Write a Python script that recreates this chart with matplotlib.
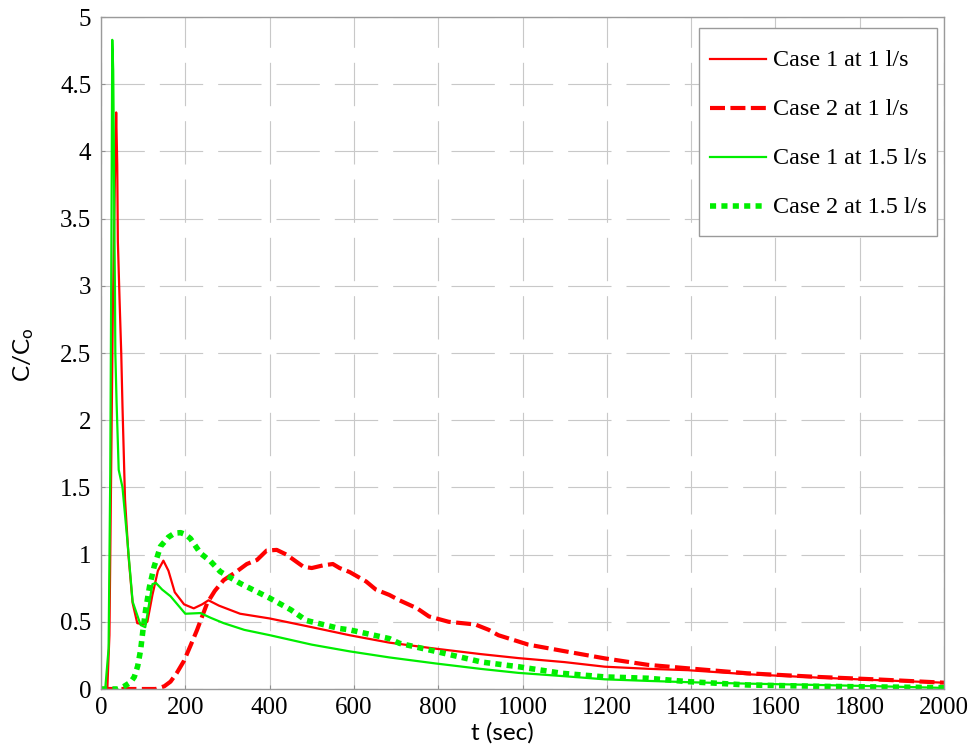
import matplotlib
matplotlib.use("Agg")
import matplotlib.pyplot as plt
import numpy as np

# ---- data ----
t_c1_1 = [0, 15, 20, 24, 28, 33, 36, 38.5, 40, 44, 48, 51, 57, 65, 75, 86, 100, 110, 122, 135,
          148, 160, 175, 197, 220, 240, 255, 280, 330, 400, 500, 590, 684, 794, 900, 990,
          1100, 1195, 1300, 1392, 1533, 1700, 1850, 2000]
c_c1_1 = [0, 0, 0.4, 1.6, 2.8, 3.8, 4.29, 3.9, 3.33, 2.9, 2.5, 2.1, 1.41, 1.0, 0.64, 0.49, 0.48,
          0.50, 0.70, 0.88, 0.955, 0.88, 0.72, 0.63, 0.60, 0.63, 0.66, 0.62, 0.56, 0.525, 0.46,
          0.40, 0.345, 0.30, 0.26, 0.23, 0.20, 0.166, 0.15, 0.14, 0.11, 0.085, 0.065, 0.047]

t_c2_1 = [0, 130, 150, 165, 180, 197, 212, 228, 252, 270, 291, 320, 346, 370, 393, 417, 440,
          480, 500, 527, 550, 566, 590, 629, 652, 684, 708, 750, 778, 825, 888, 920, 943, 1014,
          1093, 1195, 1297, 1392, 1533, 1700, 1850, 2000]
c_c2_1 = [0, 0, 0.02, 0.055, 0.12, 0.21, 0.32, 0.44, 0.64, 0.73, 0.81, 0.87, 0.93, 0.96, 1.03,
          1.035, 1.0, 0.91, 0.90, 0.92, 0.93, 0.90, 0.87, 0.80, 0.74, 0.70, 0.66, 0.60, 0.54,
          0.50, 0.48, 0.44, 0.40, 0.33, 0.285, 0.228, 0.18, 0.154, 0.117, 0.09, 0.07, 0.047]

t_c1_15 = [0, 10, 18, 22, 25, 26.7, 29, 30.6, 31.5, 33, 34, 37, 42, 51, 63, 75, 94, 105, 115,
           122, 130, 145, 165, 200, 236, 260, 291, 340, 401, 500, 590, 684, 794, 900, 990, 1100,
           1195, 1300, 1400, 1533, 1700, 1850, 2000]
c_c1_15 = [0, 0, 0.3, 1.6, 3.5, 4.83, 4.6, 4.0, 3.5, 3.0, 2.5, 2.13, 1.63, 1.50, 1.09, 0.65,
           0.476, 0.46, 0.65, 0.78, 0.79, 0.74, 0.69, 0.56, 0.565, 0.53, 0.49, 0.44, 0.40, 0.33,
           0.28, 0.235, 0.19, 0.15, 0.12, 0.095, 0.072, 0.06, 0.05, 0.04, 0.03, 0.02, 0.008]

t_c2_15 = [0, 40, 55, 70, 79, 87, 94, 100, 106, 115, 126, 141, 160, 175, 189, 200, 212, 236, 260,
           283, 330, 401, 450, 487, 566, 590, 684, 708, 794, 904, 990, 1093, 1195, 1297, 1392,
           1533, 1700, 1850, 2000]
c_c2_15 = [0, 0, 0.02, 0.05, 0.09, 0.17, 0.29, 0.45, 0.59, 0.76, 0.91, 1.06, 1.13, 1.16, 1.163,
           1.15, 1.12, 1.01, 0.95, 0.873, 0.786, 0.675, 0.59, 0.51, 0.45, 0.44, 0.375, 0.34, 0.28,
           0.20, 0.166, 0.117, 0.09, 0.08, 0.055, 0.03, 0.02, 0.015, 0.01]

labels = ["Case 1 at 1 l/s", "Case 2 at 1 l/s", "Case 1 at 1.5 l/s", "Case 2 at 1.5 l/s"]
x_ticks = list(range(0, 2001, 200))
y_ticks = [0, 0.5, 1, 1.5, 2, 2.5, 3, 3.5, 4, 4.5, 5]
y_tick_labels = ["0", "0.5", "1", "1.5", "2", "2.5", "3", "3.5", "4", "4.5", "5"]

# ---- style ----
plt.rcParams['mathtext.fontset'] = 'custom'
plt.rcParams['mathtext.rm'] = 'Lato'
plt.rcParams['mathtext.it'] = 'Lato'

RED = '#ff0000'
GREEN = '#00ee00'
FS = 18
LFS = 17.4

fig = plt.figure(figsize=(9.71, 7.48), dpi=100)
ax = fig.add_axes([101/971, 59/748, 843/971, 672/748])

ax.plot(t_c1_1, c_c1_1, color=RED, lw=1.6, label=labels[0])
ax.plot(t_c2_1, c_c2_1, color=RED, lw=3.0, dashes=(3.6, 1.3), label=labels[1])
ax.plot(t_c1_15, c_c1_15, color=GREEN, lw=1.6, label=labels[2])
ax.plot(t_c2_15, c_c2_15, color=GREEN, lw=4.0, dashes=(1.1, 0.95), dash_capstyle='butt',
        label=labels[3])

ax.set_xlim(0, 2000)
ax.set_ylim(0, 5)
ax.set_xticks(x_ticks)
ax.set_xticklabels([str(v) for v in x_ticks])
ax.set_yticks(y_ticks)
ax.set_yticklabels(y_tick_labels)

for lab in ax.get_xticklabels() + ax.get_yticklabels():
    lab.set_fontfamily('Liberation Serif')
    lab.set_fontsize(FS)
ax.tick_params(direction='in', length=3, width=0.8, color='#909090')
ax.tick_params(axis='x', pad=6)
ax.tick_params(axis='y', pad=7)

ax.grid(True, color='#c8c8c8', lw=0.8, ls=(0, (39, 13.5)))
ax.set_axisbelow(True)
for sp in ax.spines.values():
    sp.set_color('#9a9a9a')
    sp.set_linewidth(1.0)

ax.set_xlabel('t (sec)', fontfamily='Lato', fontsize=17.5)
ax.set_ylabel(r'$\mathrm{C/C_o}$', fontfamily='Lato', fontsize=17.5)
ax.xaxis.set_label_coords((502-101)/843, (689-722)/672)
ax.yaxis.set_label_coords((36-101)/843, 0.497)

leg = ax.legend(loc='upper right', bbox_to_anchor=(0.992, 0.984), borderaxespad=0,
                prop=dict(family='Liberation Serif', size=LFS), handlelength=2.3,
                handleheight=2.15, handletextpad=0.29, labelspacing=0.385, borderpad=0.45,
                fancybox=False, framealpha=1, edgecolor='#9a9a9a')
leg.get_frame().set_linewidth(1.0)
# re-centre the legend handles on their text rows
for ln in leg.get_lines():
    yd = np.asarray(ln.get_ydata(), dtype=float)
    ln.set_ydata(yd - 4.8)

fig.savefig('out.png', dpi=100)
